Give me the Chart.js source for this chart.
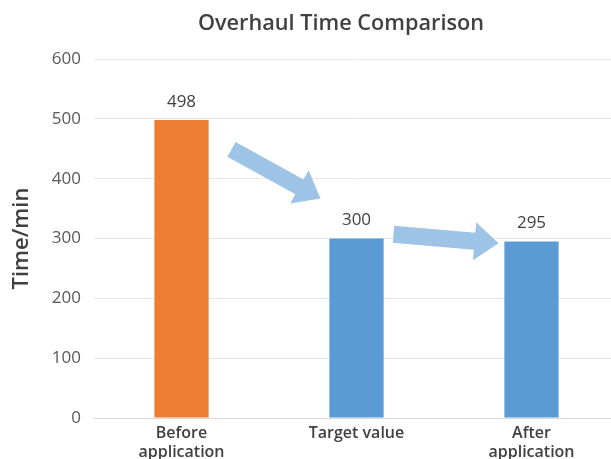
<!DOCTYPE html>
<html>
<head>
<meta charset="utf-8">
<script src="https://cdn.jsdelivr.net/npm/chart.js@4/dist/chart.umd.min.js"></script>
<style>
  html, body { margin: 0; padding: 0; background: #fff; overflow: hidden; }
  #wrap { width: 682px; height: 459px; }
</style>
</head>
<body>
<div id="wrap"><canvas id="chart"></canvas></div>
<script>
const categories = [["Before", "application"], "Target value", ["After", "application"]];
const times = [498, 300, 295];
const barColors = ["#ED7D31", "#5B9BD5", "#5B9BD5"];
const yTicks = [0, 100, 200, 300, 400, 500, 600];

// value labels on top of the bars
const valueLabels = {
  id: "valueLabels",
  afterDatasetsDraw(chart) {
    const ctx = chart.ctx;
    const meta = chart.getDatasetMeta(0);
    ctx.save();
    ctx.font = "17px 'Open Sans'";
    ctx.fillStyle = "#404040";
    ctx.textAlign = "center";
    ctx.textBaseline = "middle";
    meta.data.forEach((bar, i) => {
      ctx.fillText(times[i], bar.x, bar.y - 18);
    });
    ctx.restore();
  }
};

// block arrows between bars (offsets in px from bar centre, heights in axis values)
const arrows = {
  id: "arrows",
  afterDatasetsDraw(chart) {
    const x = chart.scales.x, y = chart.scales.y;
    const ctx = chart.ctx;
    const defs = [
      { from: [0, 50, 449], to: [1, -36, 367] },
      { from: [1, 37, 307], to: [2, -33, 292] }
    ];
    ctx.save();
    ctx.fillStyle = "#9DC3E6";
    defs.forEach(d => {
      const x0 = x.getPixelForValue(d.from[0]) + d.from[1];
      const y0 = y.getPixelForValue(d.from[2]);
      const x1 = x.getPixelForValue(d.to[0]) + d.to[1];
      const y1 = y.getPixelForValue(d.to[2]);
      const len = Math.hypot(x1 - x0, y1 - y0);
      const ang = Math.atan2(y1 - y0, x1 - x0);
      const shaft = 8.5, head = 19, headLen = 24;
      ctx.save();
      ctx.translate(x0, y0);
      ctx.rotate(ang);
      ctx.beginPath();
      ctx.moveTo(0, -shaft);
      ctx.lineTo(len - headLen, -shaft);
      ctx.lineTo(len - headLen, -head);
      ctx.lineTo(len, 0);
      ctx.lineTo(len - headLen, head);
      ctx.lineTo(len - headLen, shaft);
      ctx.lineTo(0, shaft);
      ctx.closePath();
      ctx.fill();
      ctx.restore();
    });
    ctx.restore();
  }
};

new Chart(document.getElementById("chart"), {
  type: "bar",
  data: {
    labels: categories,
    datasets: [{
      data: times,
      backgroundColor: barColors,
      borderWidth: 0,
      barPercentage: 0.31,
      categoryPercentage: 1
    }]
  },
  options: {
    responsive: true,
    maintainAspectRatio: false,
    animation: false,
    layout: { padding: { top: 0, right: 9, left: 9, bottom: 0 } },
    plugins: {
      legend: { display: false },
      tooltip: { enabled: false },
      title: {
        display: true,
        text: "Overhaul Time Comparison",
        color: "#404040",
        font: { family: "'Open Sans'", size: 21.7, weight: "600", lineHeight: 1.2 },
        padding: { top: 11, bottom: 22 }
      }
    },
    scales: {
      y: {
        min: 0,
        max: 600,
        afterBuildTicks(axis) {
          axis.ticks = yTicks.map(v => ({ value: v }));
        },
        afterFit(axis) {
          axis.width = 85;
        },
        grid: { color: "#e6e6e6", drawTicks: false },
        border: { display: false },
        ticks: {
          color: "#595959",
          font: { family: "'Open Sans'", size: 17 },
          padding: 13
        },
        title: {
          display: true,
          text: "Time/min",
          color: "#404040",
          font: { family: "'Open Sans'", size: 22, weight: "600", lineHeight: 1.2 },
          padding: 0
        }
      },
      // empty right-hand space of the original plot
      yRight: {
        position: "right",
        min: 0,
        max: 600,
        afterFit(axis) {
          axis.width = 54;
        },
        grid: { display: false },
        border: { display: false },
        ticks: { display: false }
      },
      x: {
        afterFit(axis) {
          axis.height = 41;
        },
        grid: { display: false },
        border: { color: "#d9d9d9" },
        ticks: {
          color: "#404040",
          font: { family: "'Open Sans'", size: 16, weight: "600", lineHeight: 1.17 },
          padding: -2,
          maxRotation: 0,
          autoSkip: false
        }
      }
    }
  },
  plugins: [valueLabels, arrows]
});
</script>
</body>
</html>
